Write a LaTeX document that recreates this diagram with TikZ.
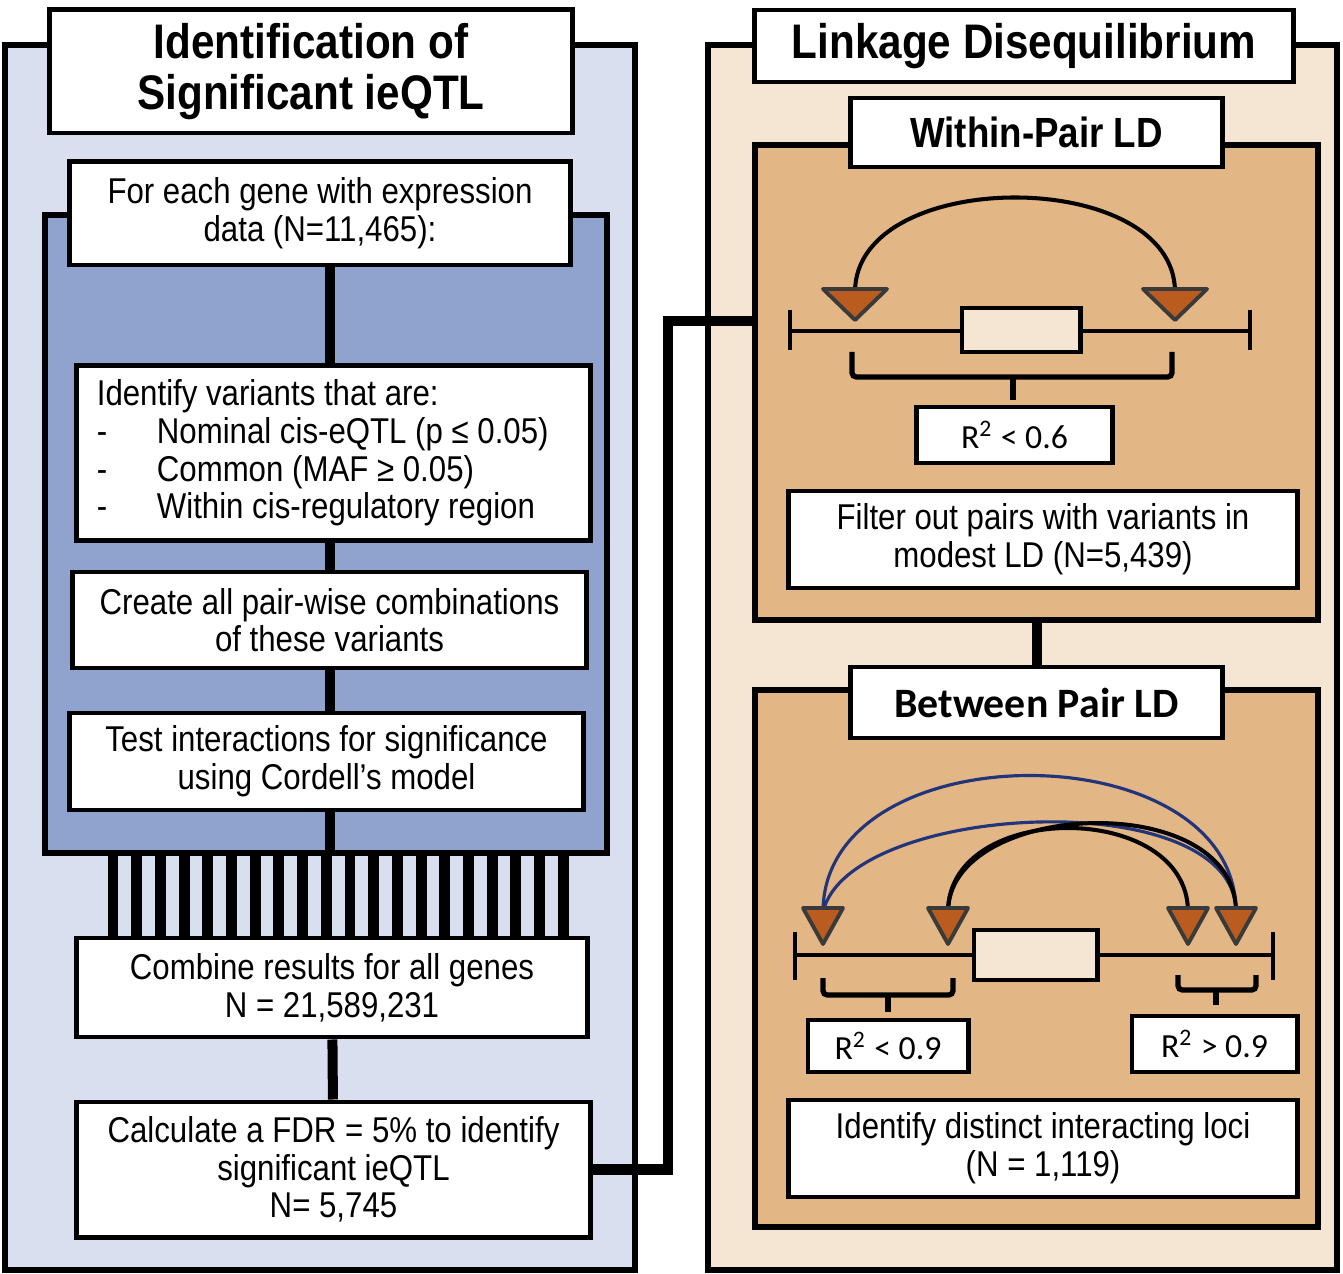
\documentclass[tikz,border=0pt]{standalone}
\usepackage{fontspec}
\setmainfont{Liberation Sans}[FakeStretch=0.87]
\newfontfamily\calfont{Carlito}
\usetikzlibrary{positioning}
\definecolor{paleblue}{RGB}{217,223,238}
\definecolor{midblue}{RGB}{143,163,206}
\definecolor{paletan}{RGB}{245,230,211}
\definecolor{tan}{RGB}{226,183,133}
\definecolor{rust}{RGB}{186,92,32}
\definecolor{navy}{RGB}{35,53,122}
\definecolor{slate}{RGB}{58,58,58}

\begin{document}
\begin{tikzpicture}[x=0.01cm, y=-0.01cm,
    panel/.style={draw, line width=1.7pt, inner sep=0pt},
    stage/.style={draw, fill=white, line width=1.4pt, align=center, inner sep=0pt,
      font=\fontsize{10.2}{10.7}\selectfont},
    heading/.style={stage, font=\fontsize{13.8}{14.4}\selectfont\bfseries},
    tag/.style={stage, font=\calfont\fontsize{9.6}{11}\selectfont},
    wire/.style={line width=2.85pt},
    fanbar/.style={line width=3.1pt},
    chrom/.style={line width=1.4pt},
    clamp/.style={line width=1.5pt, rounded corners=1.2pt},
    ldarc/.style={line width=1.15pt},
    snp/.style={draw=slate, fill=rust, line width=1.1pt, line join=round}]
  \useasboundingbox (0,0) rectangle (1343,1274);

  % left panel
  \node[panel, fill=paleblue, minimum width=6.30cm, minimum height=12.25cm] (ident) at (320,657.5) {};
  \node[heading, minimum width=5.22cm, minimum height=1.23cm] (identhead) at (311,71.5) {Identification of\\Significant ieQTL};
  \node[panel, fill=midblue, minimum width=5.62cm, minimum height=6.38cm] (loop) at (326,534) {};
  \node[stage, minimum width=5.00cm, minimum height=1.03cm] (gene) at (320,213.5) {For each gene with expression\\data (N=11,465):};
  \node[stage, text width=4.73cm, inner xsep=0.2cm, align=flush left, minimum height=1.74cm] (filt) at (333.5,453)
    {Identify variants that are:\\
     \makebox[0.6cm][l]{-}Nominal cis-eQTL (p ≤ 0.05)\\
     \makebox[0.6cm][l]{-}Common (MAF ≥ 0.05)\\
     \makebox[0.6cm][l]{-}Within cis-regulatory region};
  \node[stage, minimum width=5.13cm, minimum height=0.96cm] (pairs) at (329.5,620) {Create all pair-wise combinations\\of these variants};
  \node[stage, minimum width=5.13cm, minimum height=0.97cm] (test) at (326.5,761.5) {Test interactions for significance\\using Cordell’s model};
  \node[stage, minimum width=5.10cm, minimum height=0.99cm] (comb) at (332,987.5) {Combine results for all genes\\N = 21,589,231};
  \node[stage, minimum width=5.13cm, minimum height=1.35cm] (fdr) at (333.5,1169.5) {Calculate a FDR = 5\% to identify\\significant ieQTL\\N= 5,745};

  \coordinate (spine) at (330,0);
  \draw[wire] (gene.south -| spine) -- (filt.north -| spine);
  \draw[wire] (filt.south -| spine) -- (pairs.north -| spine);
  \draw[wire] (pairs.south -| spine) -- (test.north -| spine);
  \draw[wire] (test.south -| spine) -- (loop.south -| spine);
  \foreach \i in {0,...,19} {
    \coordinate (fan) at ({113+23.7*\i},0);
    \draw[fanbar] (loop.south -| fan) -- (comb.north -| fan);
  }
  \draw[wire] (comb) -- (fdr);

  % right panel
  \node[panel, fill=paletan, minimum width=6.29cm, minimum height=12.25cm] (ld) at (1022.5,657.5) {};
  \node[heading, minimum width=5.38cm, minimum height=0.72cm] (ldhead) at (1024,46) {Linkage Disequilibrium};
  \node[panel, fill=tan, minimum width=5.63cm, minimum height=4.75cm] (within) at (1036.5,382.5) {};
  \node[heading, font=\fontsize{12}{12}\selectfont\bfseries, minimum width=3.71cm, minimum height=0.69cm] (withinhead) at (1036.5,132.5) {Within-Pair LD};
  \node[panel, fill=tan, minimum width=5.63cm, minimum height=5.37cm] (between) at (1036.5,958.5) {};
  \node[heading, font=\calfont\bfseries\fontsize{11.9}{12}\selectfont, minimum width=3.71cm, minimum height=0.71cm] (betweenhead) at (1036.5,702.5) {Between Pair LD};

  % within-pair
  \draw[chrom] (790,310) -- (790,350) (790,331) -- (1250,331) (1250,310) -- (1250,350);
  \node[stage, fill=paletan, minimum width=1.18cm, minimum height=0.44cm] (locus1) at (1021,330) {};
  \coordinate (wa) at (855,292);
  \coordinate (wb) at (1175,292);
  \draw[ldarc] (wa) .. controls +(0,-126) and +(0,-126) .. (wb);
  \foreach \x in {855,1175}
    \draw[snp] (\x-32,289) -- (\x+32,289) -- (\x,320) -- cycle;
  \draw[clamp] (852,352) -- (852,377) -- (1172,377) -- (1172,352);
  \draw[clamp] (1013,377) -- (1013,400);
  \node[tag, minimum width=1.95cm, minimum height=0.56cm] (r6) at (1014.5,435) {R\textsuperscript{2} < 0.6};
  \node[stage, minimum width=5.08cm, minimum height=0.97cm] (drop) at (1043,539.5) {Filter out pairs with variants in\\modest LD (N=5,439)};

  % between-pair
  \draw[chrom] (795,932) -- (795,980) (795,955) -- (1273,955) (1273,932) -- (1273,980);
  \node[stage, fill=paletan, minimum width=1.23cm, minimum height=0.50cm] (locus2) at (1035.5,955) {};
  \coordinate (ba) at (823,912);
  \coordinate (bb) at (948,912);
  \coordinate (bc) at (1188,912);
  \coordinate (bd) at (1236,912);
  \draw[ldarc, navy, line width=0.9pt] (ba) .. controls +(0,-182) and +(0,-182) .. (bd);
  \draw[ldarc, navy, line width=0.9pt] (ba) .. controls +(25,-110) and +(0,-130) .. (bd);
  \draw[ldarc] (bb) .. controls +(0,-112) and +(0,-112) .. (bc);
  \draw[ldarc] (bb) .. controls +(0,-112) and +(0,-125) .. (bd);
  \foreach \x in {823,948,1188,1236}
    \draw[snp] (\x-20,908) -- (\x+20,908) -- (\x,944) -- cycle;
  \draw[clamp] (823,978) -- (823,995) -- (953,995) -- (953,978);
  \draw[clamp] (888,995) -- (888,1012);
  \draw[clamp] (1178,975) -- (1178,990) -- (1256,990) -- (1256,975);
  \draw[clamp] (1216,990) -- (1216,1005);
  \node[tag, minimum width=1.60cm, minimum height=0.52cm] (r9lo) at (888,1046) {R\textsuperscript{2} < 0.9};
  \node[tag, minimum width=1.65cm, minimum height=0.56cm] (r9hi) at (1214.5,1044) {R\textsuperscript{2} > 0.9};
  \node[stage, minimum width=5.08cm, minimum height=0.97cm] (loci) at (1043,1148.5) {Identify distinct interacting loci\\(N = 1,119)};

  % connectors
  \draw[wire] (within) -- (betweenhead);
  \coordinate (hop) at (668,321);
  \draw[wire] (fdr.east) -| (hop) -- (hop -| within.west);
\end{tikzpicture}
\end{document}
